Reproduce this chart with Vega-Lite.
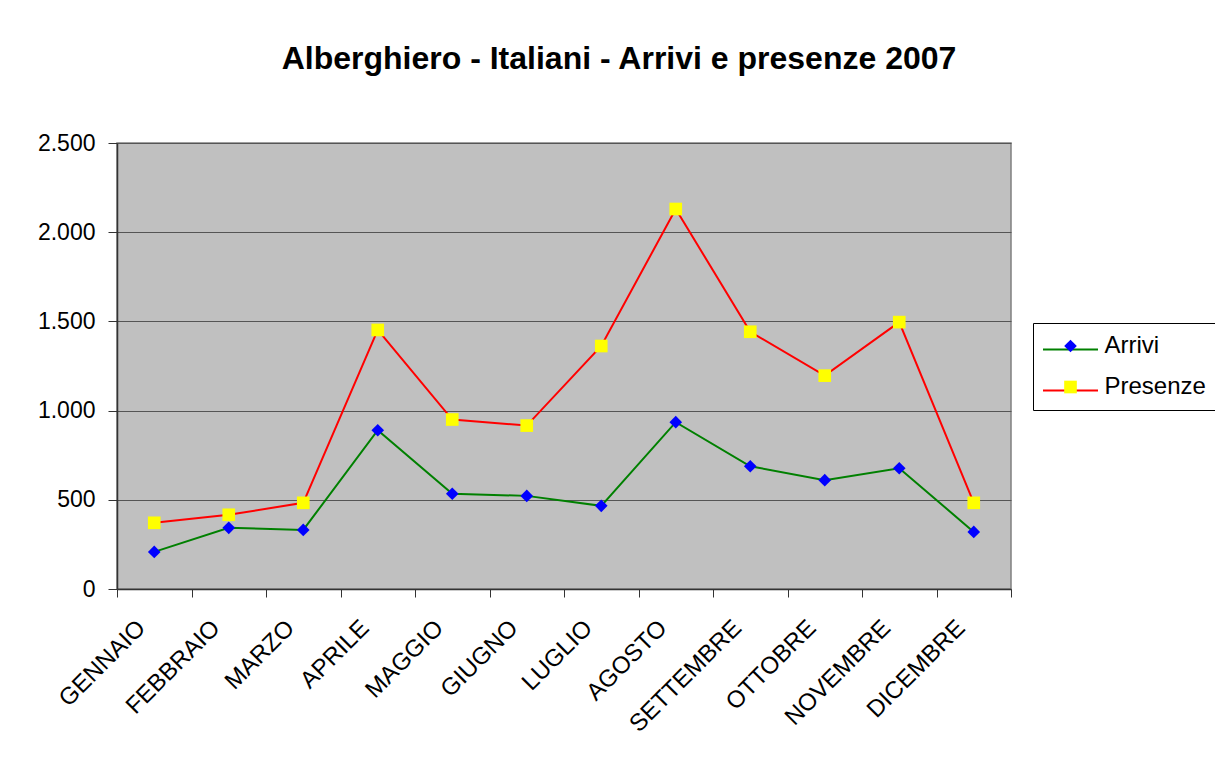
{
  "$schema": "https://vega.github.io/schema/vega-lite/v6.json",
  "width": 894,
  "height": 446,
  "autosize": {"type": "none"},
  "padding": {"left": 117, "top": 143, "right": 204, "bottom": 178},
  "background": "white",
  "title": {
    "text": "Alberghiero  - Italiani - Arrivi e presenze 2007",
    "font": "Liberation Sans",
    "fontSize": 32,
    "fontWeight": "bold",
    "color": "black",
    "anchor": "middle",
    "dx": 55,
    "offset": 56
  },
  "config": {
    "font": "Liberation Sans",
    "view": {"fill": "#C0C0C0", "stroke": "#808080", "strokeWidth": 1.5}
  },
  "data": {
    "values": [
      {"mese": "GENNAIO", "serie": "Arrivi", "valore": 208},
      {"mese": "FEBBRAIO", "serie": "Arrivi", "valore": 343},
      {"mese": "MARZO", "serie": "Arrivi", "valore": 331},
      {"mese": "APRILE", "serie": "Arrivi", "valore": 890},
      {"mese": "MAGGIO", "serie": "Arrivi", "valore": 534},
      {"mese": "GIUGNO", "serie": "Arrivi", "valore": 522},
      {"mese": "LUGLIO", "serie": "Arrivi", "valore": 466},
      {"mese": "AGOSTO", "serie": "Arrivi", "valore": 935},
      {"mese": "SETTEMBRE", "serie": "Arrivi", "valore": 688},
      {"mese": "OTTOBRE", "serie": "Arrivi", "valore": 610},
      {"mese": "NOVEMBRE", "serie": "Arrivi", "valore": 677},
      {"mese": "DICEMBRE", "serie": "Arrivi", "valore": 320},
      {"mese": "GENNAIO", "serie": "Presenze", "valore": 371},
      {"mese": "FEBBRAIO", "serie": "Presenze", "valore": 416},
      {"mese": "MARZO", "serie": "Presenze", "valore": 483},
      {"mese": "APRILE", "serie": "Presenze", "valore": 1452},
      {"mese": "MAGGIO", "serie": "Presenze", "valore": 950},
      {"mese": "GIUGNO", "serie": "Presenze", "valore": 916},
      {"mese": "LUGLIO", "serie": "Presenze", "valore": 1362},
      {"mese": "AGOSTO", "serie": "Presenze", "valore": 2130},
      {"mese": "SETTEMBRE", "serie": "Presenze", "valore": 1442},
      {"mese": "OTTOBRE", "serie": "Presenze", "valore": 1196},
      {"mese": "NOVEMBRE", "serie": "Presenze", "valore": 1496},
      {"mese": "DICEMBRE", "serie": "Presenze", "valore": 483}
    ]
  },
  "encoding": {
    "x": {
      "field": "mese",
      "type": "nominal",
      "sort": ["GENNAIO", "FEBBRAIO", "MARZO", "APRILE", "MAGGIO", "GIUGNO", "LUGLIO", "AGOSTO", "SETTEMBRE", "OTTOBRE", "NOVEMBRE", "DICEMBRE"],
      "scale": {"type": "band", "paddingInner": 0, "paddingOuter": 0},
      "axis": {
        "title": null,
        "tickBand": "extent",
        "tickSize": 8,
        "tickColor": "#333333",
        "domainColor": "#333333",
        "domainWidth": 1.5,
        "labelAngle": -45,
        "labelAlign": "right",
        "labelBaseline": "middle",
        "labelFontSize": 24,
        "labelColor": "black",
        "labelPadding": 27,
        "labelOffset": -13,
        "grid": false
      }
    },
    "y": {
      "field": "valore",
      "type": "quantitative",
      "scale": {"domain": [0, 2500], "nice": false, "zero": true},
      "axis": {
        "title": null,
        "values": [0, 500, 1000, 1500, 2000, 2500],
        "labelExpr": "replace(format(datum.value, ','), ',', '.')",
        "grid": true,
        "gridColor": "#555555",
        "gridWidth": 1,
        "tickSize": 9,
        "tickColor": "#333333",
        "domainColor": "#333333",
        "domainWidth": 1.5,
        "labelFontSize": 23,
        "labelColor": "black",
        "labelPadding": 13
      }
    }
  },
  "layer": [
    {
      "mark": {"type": "line", "strokeWidth": 2},
      "encoding": {
        "stroke": {
          "field": "serie",
          "type": "nominal",
          "scale": {"domain": ["Arrivi", "Presenze"], "range": ["#008000", "#FF0000"]},
          "legend": {
            "title": null,
            "orient": "none",
            "legendX": 925,
            "legendY": 178,
            "padding": 0,
            "symbolType": "stroke",
            "symbolSize": 3025,
            "symbolStrokeWidth": 2,
            "labelFontSize": 24,
            "labelExpr": "''",
            "labelOffset": 0,
            "rowPadding": -2
          }
        }
      }
    },
    {
      "mark": {"type": "point", "filled": true, "opacity": 1, "size": 160, "strokeWidth": 0},
      "encoding": {
        "fill": {
          "field": "serie",
          "type": "nominal",
          "scale": {"range": ["#0000FF", "#FFFF00"]},
          "legend": {
            "title": null,
            "orient": "none",
            "legendX": 916,
            "legendY": 180,
            "padding": 11,
            "strokeColor": "black",
            "symbolStrokeWidth": 0,
            "symbolOpacity": 1,
            "symbolSize": 160,
            "symbolOffset": 14.5,
            "labelFont": "Liberation Sans",
            "labelFontSize": 24,
            "labelColor": "black",
            "labelOffset": 22,
            "rowPadding": 17
          }
        },
        "shape": {
          "field": "serie",
          "type": "nominal",
          "scale": {"range": ["diamond", "square"]}
        }
      }
    }
  ]
}
